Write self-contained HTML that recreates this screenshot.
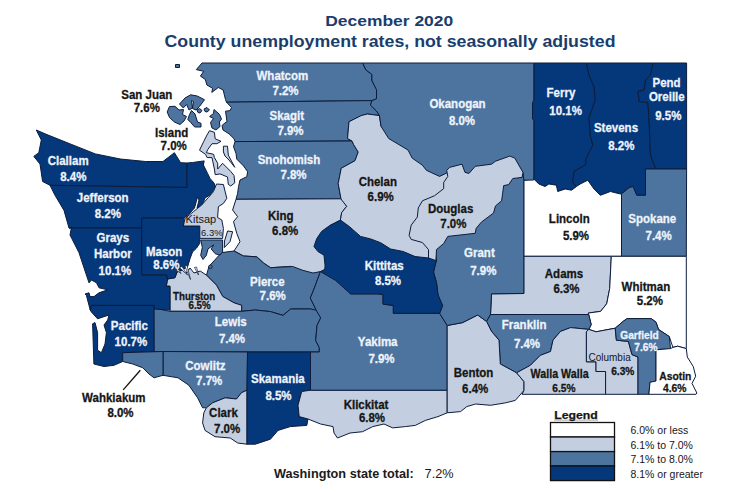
<!DOCTYPE html>
<html><head><meta charset="utf-8"><title>County unemployment rates</title>
<style>html,body{margin:0;padding:0;background:#fff;}body{width:737px;height:492px;overflow:hidden;font-family:"Liberation Sans",sans-serif;}svg{display:block;}</style>
</head><body>
<svg width="737" height="492" viewBox="0 0 737 492">
<g stroke="#0d1c3c" stroke-width="1" stroke-linejoin="round">
<polygon fill="#4d749f" points="202.0,63.0 362.7,63.0 365.8,69.8 371.9,74.4 371.9,80.5 376.5,89.7 376.5,98.8 372.0,100.6 226.5,102.2 225.5,99.6 224.3,94.8 223.2,90.0 218.3,87.5 211.8,92.4 212.6,88.3 206.9,85.0 205.3,79.4 200.4,76.1 203.7,71.3 196.3,69.6"/>
<polygon fill="#4d749f" points="226.5,102.2 372.0,100.6 370.4,105.0 376.5,111.0 379.5,115.6 367.3,114.0 361.2,115.6 349.0,121.7 347.5,138.5 352.0,141.0 235.0,141.6 234.0,138.7 229.0,133.8 223.0,130.0 222.0,125.5 224.9,123.0 227.0,121.6 225.5,111.2 229.8,110.6 231.6,107.6"/>
<polygon fill="#4d749f" points="235.0,141.6 352.0,141.0 353.6,144.6 358.2,152.0 355.0,160.7 341.2,168.3 338.2,183.6 341.0,198.8 236.0,199.3 237.6,193.4 238.5,186.7 240.0,180.0 246.8,176.7 247.6,171.7 243.5,165.9 236.8,159.2 236.0,153.4 233.5,146.7"/>
<polygon fill="#c3cfe0" points="236.0,199.3 341.7,198.8 346.7,206.3 341.7,212.6 340.4,220.1 327.5,227.8 318.3,237.0 316.8,244.6 324.4,250.7 326.0,263.0 323.2,276.0 300.6,276.0 290.6,266.4 270.5,267.7 263.5,263.0 256.8,256.8 243.5,256.0 234.0,251.0 240.0,241.7 236.8,233.4 233.5,221.7 237.6,216.7 232.6,210.0"/>
<polygon fill="#4d749f" points="234.0,251.0 243.5,256.0 256.8,256.8 263.5,263.0 270.5,267.7 292.7,266.5 302.8,270.3 313.0,273.0 320.4,271.6 314.0,289.0 310.3,298.0 316.6,311.0 310.6,309.0 290.6,309.0 283.0,315.4 270.5,311.6 255.4,310.0 241.6,311.3 241.6,305.3 234.0,302.8 222.8,296.5 216.5,285.2 206.5,275.2 209.0,266.4 221.5,252.6"/>
<polygon fill="#c3cfe0" points="167.6,279.0 175.0,277.7 177.0,272.0 182.0,270.0 186.0,273.0 190.0,268.0 194.0,273.0 200.2,271.0 206.5,275.2 216.5,285.2 222.8,296.5 234.0,302.8 241.6,305.3 241.6,311.3 169.9,311.3 169.9,286.0 166.3,286.0 167.5,277.7"/>
<polygon fill="#4d749f" points="153.8,308.0 169.9,311.3 241.6,311.3 255.4,310.0 270.5,311.6 283.0,315.4 290.6,309.0 310.6,309.0 317.0,310.3 320.7,317.9 317.0,325.4 315.7,340.5 319.3,347.6 319.3,352.0 154.0,351.5"/>
<polygon fill="#4d749f" points="163.0,351.5 247.5,352.0 247.0,390.2 241.5,392.7 236.5,399.0 225.2,397.8 212.6,402.8 206.4,407.8 202.6,407.8 197.6,397.8 188.8,385.2 178.0,377.8 163.0,375.3"/>
<polygon fill="#c3cfe0" points="206.4,407.8 212.6,402.8 225.2,397.8 236.5,399.0 241.5,392.7 247.0,390.2 247.0,444.2 237.7,443.0 230.2,438.0 215.0,436.7 205.0,430.4 202.6,422.9 203.8,412.8"/>
<polygon fill="#04387a" points="247.5,352.0 310.5,352.0 310.5,390.2 301.7,391.5 298.0,405.3 299.2,416.6 308.0,419.0 306.8,425.4 290.4,426.6 278.0,430.4 270.4,439.2 255.3,444.2 247.0,444.2 247.0,390.2"/>
<polygon fill="#c3cfe0" points="310.5,390.2 447.2,390.2 447.2,412.8 438.0,416.6 425.4,420.4 415.3,425.4 405.3,426.6 392.7,427.9 384.0,424.0 372.7,426.6 362.6,431.7 350.0,433.0 337.5,438.0 334.0,433.0 333.0,426.6 320.6,424.0 308.0,419.0 299.2,416.6 298.0,405.3 301.7,391.5"/>
<polygon fill="#4d749f" points="320.4,271.6 329.7,270.0 340.4,275.0 349.5,285.0 383.0,295.0 383.0,304.0 393.8,305.6 393.8,313.3 439.6,313.3 447.2,325.5 447.2,390.2 310.5,390.2 310.5,352.0 319.3,352.0 319.3,347.6 315.7,340.5 317.0,325.4 320.7,317.9 316.6,311.0 310.3,298.0 314.0,289.0"/>
<polygon fill="#c3cfe0" points="349.0,121.7 361.2,115.6 367.3,114.0 379.5,115.6 381.0,126.3 392.0,136.0 410.0,148.0 418.0,160.0 426.0,165.0 434.0,170.0 442.0,172.0 450.0,172.0 452.0,180.0 448.0,190.0 440.0,200.0 428.0,205.0 424.0,212.0 422.0,222.0 416.0,230.0 416.0,238.0 426.0,240.0 432.0,247.0 432.0,262.0 416.0,262.0 400.0,258.0 388.5,254.0 379.4,248.0 368.7,245.0 356.5,242.0 348.8,232.0 340.4,220.1 341.7,212.6 346.7,206.3 341.7,200.0 341.0,198.8 338.2,183.6 341.2,168.3 355.0,160.7 358.2,152.0 353.6,144.6 352.0,141.0 347.5,138.5"/>
<polygon fill="#04387a" points="533.8,63.0 586.5,63.0 589.0,75.0 594.0,86.4 595.3,100.2 589.0,117.8 590.3,135.3 592.8,145.4 586.5,157.6 585.3,165.0 574.0,171.4 572.7,182.7 576.5,186.5 571.5,190.2 565.2,189.0 557.7,191.5 556.4,185.2 548.9,184.0 545.0,186.5 538.8,184.0 533.8,179.0 533.8,120.3 532.5,119.0 532.5,102.7 533.8,100.2"/>
<polygon fill="#04387a" points="586.5,63.0 653.0,63.0 650.5,75.0 645.5,80.0 644.2,90.2 638.0,91.4 639.2,101.5 648.0,102.7 649.3,125.3 650.5,155.4 655.5,168.0 655.5,169.0 645.5,169.0 645.5,195.3 636.7,195.3 633.0,186.5 629.2,187.7 620.4,194.0 610.4,191.5 600.3,195.3 594.0,189.0 587.8,180.2 580.2,184.0 576.5,186.5 572.7,182.7 574.0,171.4 585.3,165.0 586.5,157.6 592.8,145.4 590.3,135.3 589.0,117.8 595.3,100.2 594.0,86.4 589.0,75.0"/>
<polygon fill="#04387a" points="653.0,63.0 686.6,63.0 686.6,169.0 655.5,169.0 655.5,168.0 650.5,155.4 649.3,125.3 648.0,102.7 639.2,101.5 638.0,91.4 644.2,90.2 645.5,80.0 650.5,75.0"/>
<polygon fill="#4d749f" points="645.5,169.0 686.6,169.0 686.3,256.3 621.5,256.3 621.5,194.0 629.2,187.7 633.0,186.5 636.7,195.3 645.5,195.3"/>
<polygon fill="#ffffff" points="523.8,180.2 533.8,179.0 538.8,184.0 545.0,186.5 548.9,184.0 556.4,185.2 557.7,191.5 565.2,189.0 571.5,190.2 576.5,186.5 580.2,184.0 587.8,180.2 594.0,189.0 600.3,195.3 610.4,191.5 620.4,194.0 621.5,194.0 621.5,256.3 523.8,256.3"/>
<polygon fill="#c3cfe0" points="523.8,256.3 611.3,256.3 609.7,288.5 606.7,303.8 600.6,311.4 588.4,313.0 588.4,314.5 490.5,314.5 491.5,293.8 523.8,293.5"/>
<polygon fill="#ffffff" points="611.3,256.3 686.3,256.3 686.3,348.6 677.7,346.2 672.9,347.4 669.3,336.6 658.5,329.4 656.0,322.2 651.3,318.6 627.2,318.6 623.6,321.0 615.2,328.2 596.0,331.8 588.8,329.4 591.2,324.6 588.8,315.0 588.4,313.0 600.6,311.4 606.7,303.8 609.7,288.5"/>
<polygon fill="#4d749f" points="490.5,314.5 588.4,314.5 588.8,315.0 591.2,324.6 588.8,329.4 570.6,327.6 560.5,331.4 553.0,340.2 550.5,351.5 540.4,355.3 530.4,365.3 516.6,372.8 500.3,364.0 499.0,340.2 491.5,331.4 486.5,321.4"/>
<polygon fill="#c3cfe0" points="447.2,325.5 462.6,322.6 477.7,315.0 486.5,321.4 491.5,331.4 499.0,340.2 500.3,364.0 516.6,372.8 524.0,381.6 524.0,390.4 515.3,400.4 505.7,402.8 490.6,405.3 475.6,404.0 466.8,406.6 460.5,411.6 447.2,412.8"/>
<polygon fill="#c3cfe0" points="516.6,372.8 530.4,365.3 540.4,355.3 550.5,351.5 553.0,340.2 560.5,331.4 570.6,327.6 588.8,329.4 586.4,331.8 586.4,361.8 596.0,361.8 596.0,371.5 605.6,371.5 605.6,394.3 522.0,394.3 524.0,390.4 524.0,381.6"/>
<polygon fill="#c3cfe0" points="586.4,331.8 588.8,329.4 596.0,331.8 615.2,328.2 616.4,340.2 628.4,341.4 632.0,354.6 638.0,357.0 638.0,394.3 605.6,394.3 605.6,371.5 596.0,371.5 596.0,361.8 586.4,361.8"/>
<polygon fill="#4d749f" points="615.2,328.2 623.6,321.0 627.2,318.6 651.3,318.6 656.0,322.2 658.5,329.4 669.3,336.6 670.5,348.6 656.0,349.8 656.0,381.0 650.0,382.3 648.9,394.3 638.0,394.3 638.0,357.0 632.0,354.6 628.4,341.4 616.4,340.2"/>
<polygon fill="#ffffff" points="670.5,348.6 672.9,347.4 677.7,346.2 686.3,348.6 687.3,357.0 693.3,366.6 695.7,376.2 692.0,383.4 696.9,393.0 696.0,394.3 648.9,394.3 650.0,382.3 656.0,381.0 656.0,349.8"/>
<polygon fill="#04387a" points="36.3,130.0 45.0,133.8 70.2,143.9 95.3,153.9 120.4,159.0 145.5,161.5 163.0,161.5 174.4,152.7 180.6,162.7 187.0,163.0 187.0,187.5 50.0,185.3 42.6,181.5 40.0,164.0 33.8,156.4 38.8,152.7 41.3,140.0"/>
<polygon fill="#04387a" points="50.0,185.3 187.0,187.5 187.0,163.0 192.5,162.5 204.2,160.9 203.4,165.0 207.6,173.4 210.0,178.4 214.3,183.4 215.0,187.6 210.0,195.0 205.0,198.0 202.0,206.0 197.0,208.0 199.0,200.0 197.5,197.0 194.5,208.0 190.0,213.0 184.0,218.0 141.7,218.0 141.7,228.0 69.0,228.0 64.0,210.4 55.0,195.3"/>
<polygon fill="#04387a" points="69.0,228.0 141.7,228.0 141.7,274.8 166.7,274.8 167.6,279.0 166.3,286.5 170.0,286.5 170.0,310.0 154.0,309.0 154.0,305.4 91.5,305.4 90.2,310.0 86.4,295.3 85.0,294.0 89.0,292.8 90.0,296.6 94.0,296.6 99.0,292.8 107.8,289.8 99.0,287.8 96.5,282.8 91.5,280.0 89.0,282.8 86.4,275.0 79.0,252.7 70.0,235.0 71.4,227.6"/>
<polygon fill="#04387a" points="90.2,310.0 91.5,305.4 154.0,305.4 154.0,351.5 122.7,352.7 122.7,361.5 114.0,365.3 104.0,366.5 93.9,364.0 92.6,323.8 95.0,322.6 97.6,332.6 97.6,350.2 101.4,352.7 105.0,344.0 106.4,332.6 104.0,325.0 107.7,320.0 109.0,315.0 97.6,318.8 91.4,312.0"/>
<polygon fill="#4d749f" points="122.7,352.7 163.0,351.5 163.0,375.3 154.0,377.8 149.0,374.0 142.8,367.8 132.8,364.0 122.7,361.5"/>
<polygon fill="#04387a" points="141.7,218.0 184.0,218.0 183.4,226.0 199.8,226.0 199.8,243.2 196.6,248.0 192.5,252.0 190.0,258.7 187.6,266.8 182.0,270.0 177.0,272.0 175.0,277.7 167.6,279.0 166.7,274.8 141.7,274.8"/>
<polygon fill="#c3cfe0" points="216.5,184.0 223.4,184.5 226.8,198.4 223.4,203.4 218.4,206.7 217.6,217.5 221.8,220.0 223.4,228.4 222.6,238.4 199.8,238.4 199.8,226.0 183.4,226.0 185.0,218.4 193.4,211.7 201.7,205.0 208.4,197.5 213.4,191.7"/>
<polygon fill="#4d749f" points="200.7,240.0 222.6,240.0 222.6,252.0 220.0,255.0 215.3,253.8 211.2,248.9 213.7,244.8 208.0,248.9 206.3,255.4 203.0,259.5 200.7,255.4 202.3,247.3"/>
<polygon fill="#c3cfe0" points="227.6,231.0 232.6,231.7 230.0,241.7 224.3,247.6 224.5,241.0"/>
<polygon fill="#c3cfe0" points="209.5,130.7 214.4,132.3 215.2,138.8 221.0,141.3 216.9,143.7 212.0,143.7 207.9,149.4 206.3,152.7 213.6,154.3 214.4,157.6 217.7,163.3 217.7,169.0 222.6,163.3 230.7,171.4 234.0,175.5 234.8,182.8 230.7,186.0 228.3,184.4 227.5,177.0 220.0,173.9 215.2,174.7 214.4,169.0 212.8,161.6 212.0,157.6 207.1,157.6 205.5,154.3 199.5,150.2 203.8,141.3 207.1,134.8"/>
<polygon fill="#c3cfe0" points="223.4,146.2 227.5,146.2 228.3,155.1 234.8,167.3 229.0,160.0 225.0,156.0 223.4,151.9"/>
<polygon fill="#4d749f" points="214.0,109.5 219.4,114.3 221.5,119.0 219.4,122.0 220.0,126.5 216.0,130.0 212.0,128.0 210.5,122.5 213.5,118.5 209.6,116.5 213.5,113.5"/>
<polygon fill="#4d749f" points="179.5,104.0 185.0,98.0 190.7,94.8 197.2,96.0 204.5,99.7 199.5,106.5 196.0,110.0 192.5,108.5 193.5,101.5 191.5,100.5 192.5,108.0 189.0,110.0 186.6,104.5 183.3,108.0"/>
<polygon fill="#4d749f" points="169.5,106.5 175.0,106.3 179.0,110.0 183.5,109.5 182.5,114.5 186.5,116.5 184.0,121.0 180.0,124.5 174.4,122.0 169.5,117.5 167.2,112.0"/>
<polygon fill="#4d749f" points="191.5,110.5 195.0,114.0 197.5,122.0 201.0,123.3 201.0,127.0 194.7,127.0 190.7,122.5 187.8,119.5 189.5,114.5"/>
<polygon fill="#4d749f" points="197.0,110.0 199.5,108.5 202.0,110.5 200.0,113.0 198.0,112.5"/>
<polygon fill="#4d749f" points="204.0,109.0 207.0,107.5 209.5,110.0 207.0,112.0 205.0,111.5"/>
<polygon fill="#4d749f" points="175.5,64.5 179.5,64.5 179.5,67.5 175.5,67.5"/>
<polygon fill="#4d749f" points="362.7,63.0 533.8,63.0 533.8,100.2 532.5,102.7 532.5,119.0 533.8,120.3 533.8,180.0 523.8,180.2 523.0,176.0 516.0,162.0 507.6,160.0 493.9,168.0 477.0,170.0 466.4,177.0 461.8,170.0 452.6,170.0 446.7,173.0 439.6,176.4 426.4,170.3 422.4,165.2 412.2,158.1 408.0,150.0 388.7,138.5 381.0,126.3 379.5,115.6 376.5,111.0 370.4,105.0 372.0,100.6 376.5,98.8 376.5,89.7 371.9,80.5 371.9,74.4 365.8,69.8"/>
<polygon fill="#4d749f" points="523.0,172.4 523.8,180.2 523.8,293.5 491.5,293.8 490.5,314.3 486.5,321.4 477.7,315.0 462.6,322.6 447.2,325.5 439.6,313.3 442.6,305.6 438.0,295.0 436.5,282.7 433.5,272.0 436.5,259.8 435.8,253.8 435.8,245.0 445.0,238.0 452.6,230.0 475.0,226.0 481.0,216.0 493.0,205.0 500.0,190.0 507.6,175.0"/>
<polygon fill="#c3cfe0" points="446.7,170.3 449.8,167.3 462.0,164.2 465.0,172.4 469.0,173.4 475.2,166.3 491.5,164.2 495.5,161.2 509.8,156.1 514.8,158.1 523.0,172.4 522.0,177.4 512.8,178.5 508.7,184.6 503.7,185.6 502.6,193.7 501.6,200.8 495.5,205.9 493.5,213.0 481.3,222.2 476.2,228.3 475.2,233.3 447.8,236.4 443.7,243.5 436.5,249.6 435.8,262.0 428.5,262.0 428.5,249.6 422.4,242.5 411.2,239.4 409.1,235.4 411.2,225.2 417.3,217.1 418.3,207.9 422.4,200.8 434.6,195.7 443.7,188.6 443.7,182.5 447.8,176.4"/>
<polygon fill="#04387a" points="340.4,220.1 349.2,226.4 360.5,236.4 370.6,238.9 380.6,242.7 390.6,249.0 403.2,251.5 415.0,256.5 428.5,258.0 435.8,260.5 436.5,259.8 433.5,272.0 436.5,282.7 438.0,295.0 442.6,305.6 439.6,313.3 393.2,313.3 393.2,305.4 383.1,304.2 383.1,294.1 350.5,294.1 348.0,291.6 335.4,280.3 320.4,271.6 325.4,269.0 324.0,255.2 317.9,251.5 314.0,246.5 316.6,238.9 321.6,231.4 330.4,225.1"/>
</g>
<g fill="#fff" stroke="#0d1c3c" stroke-width="0.7"><polygon points="179.5,267.5 182,266.5 187.5,275"/><polygon points="184.8,266 187,265.5 190.5,279.5"/><polygon points="194.5,267.5 196.5,267 198.5,275"/><polygon points="176,270 178,268.5 181,273.5"/></g>
<circle cx="210.4" cy="266.8" r="1.8" fill="#4d749f" stroke="#0d1c3c" stroke-width="0.9"/>
<line x1="140.3" y1="370.3" x2="123.2" y2="389.9" stroke="#111" stroke-width="1.3"/>
<g font-family="Liberation Sans, sans-serif" text-anchor="middle">
<text x="282.4" y="80.2" fill="#eef3fb" font-weight="bold" font-size="13.0" stroke="#eef3fb" stroke-width="0.3" transform="translate(282.4 0) scale(0.885 1) translate(-282.4 0)">Whatcom</text>
<text x="285.5" y="95.4" fill="#eef3fb" font-weight="bold" font-size="13.0" stroke="#eef3fb" stroke-width="0.3" transform="translate(285.5 0) scale(0.885 1) translate(-285.5 0)">7.2%</text>
<text x="146.8" y="98.6" fill="#161616" font-weight="bold" font-size="13.0" stroke="#161616" stroke-width="0.3" transform="translate(146.8 0) scale(0.885 1) translate(-146.8 0)">San Juan</text>
<text x="146.8" y="112.4" fill="#161616" font-weight="bold" font-size="13.0" stroke="#161616" stroke-width="0.3" transform="translate(146.8 0) scale(0.885 1) translate(-146.8 0)">7.6%</text>
<text x="286.8" y="120.3" fill="#eef3fb" font-weight="bold" font-size="13.0" stroke="#eef3fb" stroke-width="0.3" transform="translate(286.8 0) scale(0.885 1) translate(-286.8 0)">Skagit</text>
<text x="290.5" y="135.5" fill="#eef3fb" font-weight="bold" font-size="13.0" stroke="#eef3fb" stroke-width="0.3" transform="translate(290.5 0) scale(0.885 1) translate(-290.5 0)">7.9%</text>
<text x="171.6" y="137.1" fill="#161616" font-weight="bold" font-size="13.0" stroke="#161616" stroke-width="0.3" transform="translate(171.6 0) scale(0.885 1) translate(-171.6 0)">Island</text>
<text x="173.7" y="150.4" fill="#161616" font-weight="bold" font-size="13.0" stroke="#161616" stroke-width="0.3" transform="translate(173.7 0) scale(0.885 1) translate(-173.7 0)">7.0%</text>
<text x="289.0" y="164.3" fill="#eef3fb" font-weight="bold" font-size="13.0" stroke="#eef3fb" stroke-width="0.3" transform="translate(289.0 0) scale(0.885 1) translate(-289.0 0)">Snohomish</text>
<text x="293.5" y="179.2" fill="#eef3fb" font-weight="bold" font-size="13.0" stroke="#eef3fb" stroke-width="0.3" transform="translate(293.5 0) scale(0.885 1) translate(-293.5 0)">7.8%</text>
<text x="68.2" y="165.3" fill="#eef3fb" font-weight="bold" font-size="13.0" stroke="#eef3fb" stroke-width="0.3" transform="translate(68.2 0) scale(0.885 1) translate(-68.2 0)">Clallam</text>
<text x="73.3" y="181.5" fill="#eef3fb" font-weight="bold" font-size="13.0" stroke="#eef3fb" stroke-width="0.3" transform="translate(73.3 0) scale(0.885 1) translate(-73.3 0)">8.4%</text>
<text x="102.7" y="202.5" fill="#eef3fb" font-weight="bold" font-size="13.0" stroke="#eef3fb" stroke-width="0.3" transform="translate(102.7 0) scale(0.885 1) translate(-102.7 0)">Jefferson</text>
<text x="107.8" y="218.3" fill="#eef3fb" font-weight="bold" font-size="13.0" stroke="#eef3fb" stroke-width="0.3" transform="translate(107.8 0) scale(0.885 1) translate(-107.8 0)">8.2%</text>
<text x="112.8" y="242.0" fill="#eef3fb" font-weight="bold" font-size="13.0" stroke="#eef3fb" stroke-width="0.3" transform="translate(112.8 0) scale(0.885 1) translate(-112.8 0)">Grays</text>
<text x="112.8" y="258.0" fill="#eef3fb" font-weight="bold" font-size="13.0" stroke="#eef3fb" stroke-width="0.3" transform="translate(112.8 0) scale(0.885 1) translate(-112.8 0)">Harbor</text>
<text x="114.9" y="275.2" fill="#eef3fb" font-weight="bold" font-size="13.0" stroke="#eef3fb" stroke-width="0.3" transform="translate(114.9 0) scale(0.885 1) translate(-114.9 0)">10.1%</text>
<text x="164.2" y="256.3" fill="#eef3fb" font-weight="bold" font-size="13.0" stroke="#eef3fb" stroke-width="0.3" transform="translate(164.2 0) scale(0.885 1) translate(-164.2 0)">Mason</text>
<text x="166.4" y="269.2" fill="#eef3fb" font-weight="bold" font-size="13.0" stroke="#eef3fb" stroke-width="0.3" transform="translate(166.4 0) scale(0.885 1) translate(-166.4 0)">8.6%</text>
<text x="200.9" y="222.8" fill="#161616" font-weight="normal" font-size="11.0" transform="translate(200.9 0) scale(1.000 1) translate(-200.9 0)">Kitsap</text>
<text x="211.8" y="236.0" fill="#161616" font-weight="normal" font-size="9.5" transform="translate(211.8 0) scale(1.000 1) translate(-211.8 0)">6.3%</text>
<text x="280.8" y="220.2" fill="#161616" font-weight="bold" font-size="13.0" stroke="#161616" stroke-width="0.3" transform="translate(280.8 0) scale(0.885 1) translate(-280.8 0)">King</text>
<text x="285.2" y="235.4" fill="#161616" font-weight="bold" font-size="13.0" stroke="#161616" stroke-width="0.3" transform="translate(285.2 0) scale(0.885 1) translate(-285.2 0)">6.8%</text>
<text x="377.8" y="186.2" fill="#161616" font-weight="bold" font-size="13.0" stroke="#161616" stroke-width="0.3" transform="translate(377.8 0) scale(0.885 1) translate(-377.8 0)">Chelan</text>
<text x="380.7" y="201.0" fill="#161616" font-weight="bold" font-size="13.0" stroke="#161616" stroke-width="0.3" transform="translate(380.7 0) scale(0.885 1) translate(-380.7 0)">6.9%</text>
<text x="457.5" y="108.0" fill="#eef3fb" font-weight="bold" font-size="13.0" stroke="#eef3fb" stroke-width="0.3" transform="translate(457.5 0) scale(0.885 1) translate(-457.5 0)">Okanogan</text>
<text x="462.0" y="125.3" fill="#eef3fb" font-weight="bold" font-size="13.0" stroke="#eef3fb" stroke-width="0.3" transform="translate(462.0 0) scale(0.885 1) translate(-462.0 0)">8.0%</text>
<text x="560.9" y="97.2" fill="#eef3fb" font-weight="bold" font-size="13.0" stroke="#eef3fb" stroke-width="0.3" transform="translate(560.9 0) scale(0.885 1) translate(-560.9 0)">Ferry</text>
<text x="565.6" y="115.3" fill="#eef3fb" font-weight="bold" font-size="13.0" stroke="#eef3fb" stroke-width="0.3" transform="translate(565.6 0) scale(0.885 1) translate(-565.6 0)">10.1%</text>
<text x="616.0" y="132.3" fill="#eef3fb" font-weight="bold" font-size="13.0" stroke="#eef3fb" stroke-width="0.3" transform="translate(616.0 0) scale(0.885 1) translate(-616.0 0)">Stevens</text>
<text x="621.3" y="149.9" fill="#eef3fb" font-weight="bold" font-size="13.0" stroke="#eef3fb" stroke-width="0.3" transform="translate(621.3 0) scale(0.885 1) translate(-621.3 0)">8.2%</text>
<text x="666.6" y="87.1" fill="#eef3fb" font-weight="bold" font-size="13.0" stroke="#eef3fb" stroke-width="0.3" transform="translate(666.6 0) scale(0.885 1) translate(-666.6 0)">Pend</text>
<text x="666.8" y="101.5" fill="#eef3fb" font-weight="bold" font-size="13.0" stroke="#eef3fb" stroke-width="0.3" transform="translate(666.8 0) scale(0.885 1) translate(-666.8 0)">Oreille</text>
<text x="668.3" y="120.3" fill="#eef3fb" font-weight="bold" font-size="13.0" stroke="#eef3fb" stroke-width="0.3" transform="translate(668.3 0) scale(0.885 1) translate(-668.3 0)">9.5%</text>
<text x="450.6" y="213.0" fill="#161616" font-weight="bold" font-size="13.0" stroke="#161616" stroke-width="0.3" transform="translate(450.6 0) scale(0.885 1) translate(-450.6 0)">Douglas</text>
<text x="453.4" y="228.3" fill="#161616" font-weight="bold" font-size="13.0" stroke="#161616" stroke-width="0.3" transform="translate(453.4 0) scale(0.885 1) translate(-453.4 0)">7.0%</text>
<text x="569.3" y="223.2" fill="#161616" font-weight="bold" font-size="13.0" stroke="#161616" stroke-width="0.3" transform="translate(569.3 0) scale(0.885 1) translate(-569.3 0)">Lincoln</text>
<text x="576.0" y="239.7" fill="#161616" font-weight="bold" font-size="13.0" stroke="#161616" stroke-width="0.3" transform="translate(576.0 0) scale(0.885 1) translate(-576.0 0)">5.9%</text>
<text x="652.3" y="223.2" fill="#eef3fb" font-weight="bold" font-size="13.0" stroke="#eef3fb" stroke-width="0.3" transform="translate(652.3 0) scale(0.885 1) translate(-652.3 0)">Spokane</text>
<text x="658.6" y="239.7" fill="#eef3fb" font-weight="bold" font-size="13.0" stroke="#eef3fb" stroke-width="0.3" transform="translate(658.6 0) scale(0.885 1) translate(-658.6 0)">7.4%</text>
<text x="479.4" y="256.9" fill="#eef3fb" font-weight="bold" font-size="13.0" stroke="#eef3fb" stroke-width="0.3" transform="translate(479.4 0) scale(0.885 1) translate(-479.4 0)">Grant</text>
<text x="483.3" y="274.6" fill="#eef3fb" font-weight="bold" font-size="13.0" stroke="#eef3fb" stroke-width="0.3" transform="translate(483.3 0) scale(0.885 1) translate(-483.3 0)">7.9%</text>
<text x="384.2" y="270.0" fill="#eef3fb" font-weight="bold" font-size="13.0" stroke="#eef3fb" stroke-width="0.3" transform="translate(384.2 0) scale(0.885 1) translate(-384.2 0)">Kittitas</text>
<text x="388.0" y="285.0" fill="#eef3fb" font-weight="bold" font-size="13.0" stroke="#eef3fb" stroke-width="0.3" transform="translate(388.0 0) scale(0.885 1) translate(-388.0 0)">8.5%</text>
<text x="564.0" y="277.8" fill="#161616" font-weight="bold" font-size="13.0" stroke="#161616" stroke-width="0.3" transform="translate(564.0 0) scale(0.885 1) translate(-564.0 0)">Adams</text>
<text x="566.5" y="293.1" fill="#161616" font-weight="bold" font-size="13.0" stroke="#161616" stroke-width="0.3" transform="translate(566.5 0) scale(0.885 1) translate(-566.5 0)">6.3%</text>
<text x="645.9" y="291.3" fill="#161616" font-weight="bold" font-size="13.0" stroke="#161616" stroke-width="0.3" transform="translate(645.9 0) scale(0.885 1) translate(-645.9 0)">Whitman</text>
<text x="649.9" y="305.4" fill="#161616" font-weight="bold" font-size="13.0" stroke="#161616" stroke-width="0.3" transform="translate(649.9 0) scale(0.885 1) translate(-649.9 0)">5.2%</text>
<text x="267.3" y="286.0" fill="#eef3fb" font-weight="bold" font-size="13.0" stroke="#eef3fb" stroke-width="0.3" transform="translate(267.3 0) scale(0.885 1) translate(-267.3 0)">Pierce</text>
<text x="272.7" y="300.0" fill="#eef3fb" font-weight="bold" font-size="13.0" stroke="#eef3fb" stroke-width="0.3" transform="translate(272.7 0) scale(0.885 1) translate(-272.7 0)">7.6%</text>
<text x="194.1" y="300.5" fill="#161616" font-weight="bold" font-size="11.0" stroke="#161616" stroke-width="0.3" transform="translate(194.1 0) scale(0.885 1) translate(-194.1 0)">Thurston</text>
<text x="199.6" y="309.3" fill="#161616" font-weight="bold" font-size="11.0" stroke="#161616" stroke-width="0.3" transform="translate(199.6 0) scale(0.885 1) translate(-199.6 0)">6.5%</text>
<text x="230.8" y="326.4" fill="#eef3fb" font-weight="bold" font-size="13.0" stroke="#eef3fb" stroke-width="0.3" transform="translate(230.8 0) scale(0.885 1) translate(-230.8 0)">Lewis</text>
<text x="232.0" y="342.8" fill="#eef3fb" font-weight="bold" font-size="13.0" stroke="#eef3fb" stroke-width="0.3" transform="translate(232.0 0) scale(0.885 1) translate(-232.0 0)">7.4%</text>
<text x="129.4" y="330.3" fill="#eef3fb" font-weight="bold" font-size="13.0" stroke="#eef3fb" stroke-width="0.3" transform="translate(129.4 0) scale(0.885 1) translate(-129.4 0)">Pacific</text>
<text x="130.9" y="346.2" fill="#eef3fb" font-weight="bold" font-size="13.0" stroke="#eef3fb" stroke-width="0.3" transform="translate(130.9 0) scale(0.885 1) translate(-130.9 0)">10.7%</text>
<text x="377.7" y="346.3" fill="#eef3fb" font-weight="bold" font-size="13.0" stroke="#eef3fb" stroke-width="0.3" transform="translate(377.7 0) scale(0.885 1) translate(-377.7 0)">Yakima</text>
<text x="381.5" y="363.4" fill="#eef3fb" font-weight="bold" font-size="13.0" stroke="#eef3fb" stroke-width="0.3" transform="translate(381.5 0) scale(0.885 1) translate(-381.5 0)">7.9%</text>
<text x="524.1" y="328.9" fill="#eef3fb" font-weight="bold" font-size="13.0" stroke="#eef3fb" stroke-width="0.3" transform="translate(524.1 0) scale(0.885 1) translate(-524.1 0)">Franklin</text>
<text x="527.0" y="348.2" fill="#eef3fb" font-weight="bold" font-size="13.0" stroke="#eef3fb" stroke-width="0.3" transform="translate(527.0 0) scale(0.885 1) translate(-527.0 0)">7.4%</text>
<text x="639.5" y="339.0" fill="#eef3fb" font-weight="bold" font-size="11.5" stroke="#eef3fb" stroke-width="0.3" transform="translate(639.5 0) scale(0.885 1) translate(-639.5 0)">Garfield</text>
<text x="645.9" y="351.2" fill="#eef3fb" font-weight="bold" font-size="11.5" stroke="#eef3fb" stroke-width="0.3" transform="translate(645.9 0) scale(0.885 1) translate(-645.9 0)">7.6%</text>
<text x="609.6" y="361.0" fill="#161616" font-weight="normal" font-size="10.0" transform="translate(609.6 0) scale(1.000 1) translate(-609.6 0)">Columbia</text>
<text x="622.8" y="375.1" fill="#161616" font-weight="bold" font-size="11.5" stroke="#161616" stroke-width="0.3" transform="translate(622.8 0) scale(0.885 1) translate(-622.8 0)">6.3%</text>
<text x="473.5" y="377.0" fill="#161616" font-weight="bold" font-size="13.0" stroke="#161616" stroke-width="0.3" transform="translate(473.5 0) scale(0.885 1) translate(-473.5 0)">Benton</text>
<text x="475.2" y="393.4" fill="#161616" font-weight="bold" font-size="13.0" stroke="#161616" stroke-width="0.3" transform="translate(475.2 0) scale(0.885 1) translate(-475.2 0)">6.4%</text>
<text x="559.6" y="377.9" fill="#161616" font-weight="bold" font-size="12.1" stroke="#161616" stroke-width="0.3" transform="translate(559.6 0) scale(0.885 1) translate(-559.6 0)">Walla Walla</text>
<text x="563.9" y="391.7" fill="#161616" font-weight="bold" font-size="11.5" stroke="#161616" stroke-width="0.3" transform="translate(563.9 0) scale(0.885 1) translate(-563.9 0)">6.5%</text>
<text x="675.3" y="379.9" fill="#161616" font-weight="bold" font-size="11.7" stroke="#161616" stroke-width="0.3" transform="translate(675.3 0) scale(0.885 1) translate(-675.3 0)">Asotin</text>
<text x="674.7" y="392.0" fill="#161616" font-weight="bold" font-size="11.7" stroke="#161616" stroke-width="0.3" transform="translate(674.7 0) scale(0.885 1) translate(-674.7 0)">4.6%</text>
<text x="205.4" y="370.5" fill="#eef3fb" font-weight="bold" font-size="13.0" stroke="#eef3fb" stroke-width="0.3" transform="translate(205.4 0) scale(0.885 1) translate(-205.4 0)">Cowlitz</text>
<text x="209.2" y="385.5" fill="#eef3fb" font-weight="bold" font-size="13.0" stroke="#eef3fb" stroke-width="0.3" transform="translate(209.2 0) scale(0.885 1) translate(-209.2 0)">7.7%</text>
<text x="277.9" y="383.2" fill="#eef3fb" font-weight="bold" font-size="13.0" stroke="#eef3fb" stroke-width="0.3" transform="translate(277.9 0) scale(0.885 1) translate(-277.9 0)">Skamania</text>
<text x="278.5" y="400.3" fill="#eef3fb" font-weight="bold" font-size="13.0" stroke="#eef3fb" stroke-width="0.3" transform="translate(278.5 0) scale(0.885 1) translate(-278.5 0)">8.5%</text>
<text x="223.5" y="416.8" fill="#161616" font-weight="bold" font-size="13.0" stroke="#161616" stroke-width="0.3" transform="translate(223.5 0) scale(0.885 1) translate(-223.5 0)">Clark</text>
<text x="227.1" y="432.9" fill="#161616" font-weight="bold" font-size="13.0" stroke="#161616" stroke-width="0.3" transform="translate(227.1 0) scale(0.885 1) translate(-227.1 0)">7.0%</text>
<text x="366.0" y="408.6" fill="#161616" font-weight="bold" font-size="13.0" stroke="#161616" stroke-width="0.3" transform="translate(366.0 0) scale(0.885 1) translate(-366.0 0)">Klickitat</text>
<text x="372.0" y="422.4" fill="#161616" font-weight="bold" font-size="13.0" stroke="#161616" stroke-width="0.3" transform="translate(372.0 0) scale(0.885 1) translate(-372.0 0)">6.8%</text>
<text x="113.8" y="402.5" fill="#161616" font-weight="bold" font-size="13.0" stroke="#161616" stroke-width="0.3" transform="translate(113.8 0) scale(0.885 1) translate(-113.8 0)">Wahkiakum</text>
<text x="120.5" y="417.2" fill="#161616" font-weight="bold" font-size="13.0" stroke="#161616" stroke-width="0.3" transform="translate(120.5 0) scale(0.885 1) translate(-120.5 0)">8.0%</text>
</g>
<g font-family="Liberation Sans, sans-serif" font-weight="bold" fill="#1b3d6d" text-anchor="middle">
<text x="389.2" y="26" font-size="14.8" textLength="128" lengthAdjust="spacingAndGlyphs">December 2020</text>
<text x="390" y="46.5" font-size="15.8" textLength="451" lengthAdjust="spacingAndGlyphs">County unemployment rates, not seasonally adjusted</text>
</g>
<g font-family="Liberation Sans, sans-serif">
<text x="554.2" y="418.8" font-size="10.6" font-weight="bold" fill="#161616" stroke="#161616" stroke-width="0.25" textLength="43.6" lengthAdjust="spacingAndGlyphs">Legend</text><line x1="554" y1="420.2" x2="598" y2="420.2" stroke="#333" stroke-width="0.6" opacity="0.6"/>
<rect x="550.5" y="422.5" width="64" height="14.5" fill="#ffffff" stroke="#111" stroke-width="1.3"/>
<rect x="550.5" y="437.0" width="64" height="14.6" fill="#c3cfe0" stroke="#111" stroke-width="1.3"/>
<rect x="550.5" y="451.6" width="64" height="14.4" fill="#4d749f" stroke="#111" stroke-width="1.3"/>
<rect x="550.5" y="466.0" width="64" height="14.6" fill="#04387a" stroke="#111" stroke-width="1.3"/>
<text x="630.5" y="433.6" font-size="10.5" fill="#151515">6.0% or less</text>
<text x="630.5" y="448.5" font-size="10.5" fill="#151515">6.1% to 7.0%</text>
<text x="630.5" y="463.0" font-size="10.5" fill="#151515">7.1% to 8.0%</text>
<text x="630.5" y="477.6" font-size="10.5" fill="#151515">8.1% or greater</text>
<text x="274" y="478.2" font-size="12.7" fill="#1a1a1a" font-weight="bold">Washington state total:</text><text x="424.6" y="478.2" font-size="12.7" fill="#1a1a1a">7.2%</text>
</g>
</svg>
</body></html>
